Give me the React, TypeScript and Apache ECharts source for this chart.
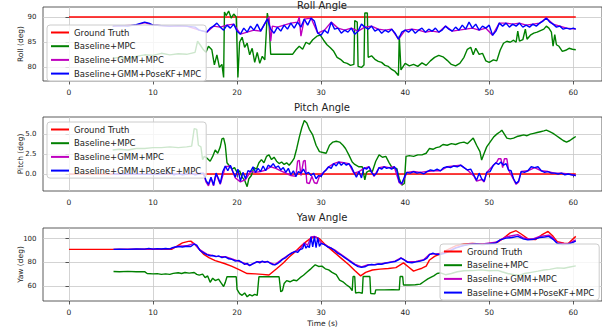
import React, { useEffect, useRef } from "react";
import * as echarts from "echarts";

type Pt = [number, number];

const xTicks = [0, 10, 20, 30, 40, 50, 60];
const rollTicks = [80, 85, 90];
const pitchTicks = [0, 2.5, 5];
const yawTicks = [60, 80, 100];
const seriesNames = ["Ground Truth", "Baseline+MPC", "Baseline+GMM+MPC", "Baseline+GMM+PoseKF+MPC"];
const titles = ["Roll Angle", "Pitch Angle", "Yaw Angle"];
const yNames = ["Roll (deg)", "Pitch (deg)", "Yaw (deg)"];

// ---------- Roll ----------
const rollGroundTruth: Pt[] = [[0, 90], [60.3, 90]];
const rollMpc: Pt[] = [
  [5.2, 81.8], [6, 82.0], [7, 81.7], [8, 82.2], [9, 82.5], [10, 82.4], [11, 82.8], [12, 82.5], [13, 82.7], [14, 82.6], [15, 83.0], [15.3, 85.2], [15.6, 84.5], [16, 83.5],
  [16.3, 83.0], [16.6, 84.2], [17.0, 83.5], [17.3, 80.5], [17.6, 82.5], [17.9, 80.0], [18.2, 80.6], [18.4, 78.0], [18.5, 91.0], [18.7, 90.3], [19.0, 91.2], [19.3, 89.8], [19.6, 90.6], [19.9, 90.0], [20.1, 78.0], [20.3, 85.0], [20.6, 86.0], [20.9, 84.0], [21.2, 84.8], [21.5, 82.5], [21.8, 83.8], [22.1, 81.0], [22.4, 83.0], [22.7, 80.8], [23.0, 82.2], [23.3, 81.5], [23.6, 90.8], [23.8, 89.0], [24.0, 82.6], [25.0, 82.6], [26.0, 82.6], [26.6, 82.6], [27.0, 83.5], [27.4, 84.2], [27.8, 83.6], [28.2, 85.0], [28.6, 84.6], [29.0, 85.5], [29.5, 86.2], [29.9, 86.4], [30.3, 85.4], [30.7, 84.5], [31.1, 83.9], [31.5, 83.2], [31.9, 82.0], [32.3, 81.6], [32.7, 81.0], [33.1, 80.8], [33.5, 80.4], [33.9, 80.6], [34.0, 89.3], [34.3, 89.0], [34.4, 80.2], [34.8, 80.0], [35.1, 80.5], [35.2, 90.8], [35.5, 90.8], [35.6, 82.0], [36.0, 82.3], [36.4, 81.6], [36.8, 81.2], [37.2, 81.0], [37.6, 80.4], [38.0, 80.2], [38.4, 79.6], [38.8, 79.2], [39.2, 78.4], [39.3, 86.3], [39.5, 79.5], [40.0, 80.8], [40.5, 80.3], [41.0, 80.6], [41.5, 80.2], [42.0, 80.9], [42.5, 80.4], [43.0, 81.3], [43.5, 82.0], [44.0, 82.4], [44.5, 82.1], [45.0, 81.4], [45.5, 80.6], [46.0, 80.3], [46.5, 80.8], [47.0, 82.0], [47.4, 83.6], [47.8, 84.0], [48.1, 82.5], [48.4, 83.8], [48.8, 82.6], [49.2, 82.8], [49.6, 81.3], [50.0, 81.0], [50.5, 81.5], [50.9, 81.3], [51.3, 83.4], [51.7, 84.8], [52.1, 85.2], [52.5, 85.0], [52.9, 85.4], [53.2, 85.0], [53.4, 87.2], [53.6, 85.2], [54.0, 85.5], [54.3, 87.6], [54.5, 85.6], [54.9, 86.4], [55.3, 86.8], [55.7, 87.0], [56.1, 87.3], [56.5, 87.6], [56.8, 88.2], [57.1, 87.8], [57.4, 87.0], [57.6, 84.2], [57.8, 86.5], [58.0, 84.5], [58.3, 84.2], [58.7, 83.2], [59.1, 83.4], [59.5, 83.8], [59.9, 83.6], [60.3, 83.5],
];
const rollGmm: Pt[] = [
  [5.2, 88.2], [8, 88.4], [9, 88.9], [10, 88.4], [12, 88.2], [14, 88.2], [15.5, 87.4], [16.4, 87.0], [17.2, 88.2], [18.0, 88.0], [18.8, 88.4], [19.6, 88.6], [20.4, 86.6], [21.2, 87.0], [22.0, 87.4], [22.8, 87.2], [23.6, 89.6], [23.8, 90.0], [24.0, 85.2], [24.2, 88.2], [24.8, 88.0], [25.6, 88.4], [26.4, 88.8], [27.2, 89.0], [27.4, 90.0], [27.6, 86.2], [28.0, 89.6], [28.8, 89.8], [29.6, 86.8], [30.4, 87.4], [31.2, 89.0], [32.0, 87.8], [32.8, 87.4], [33.6, 87.8], [34.4, 87.2], [35.2, 88.0], [36.0, 88.2], [36.8, 87.6], [37.6, 87.4], [38.4, 87.6], [39.2, 85.6], [40.0, 87.4], [40.8, 87.6], [41.6, 87.4], [42.4, 87.0], [43.2, 87.2], [44.0, 87.0], [44.8, 88.2], [45.6, 87.2], [46.4, 87.4], [47.2, 87.6], [48.0, 87.8], [48.8, 87.4], [49.6, 87.8], [50.4, 86.4], [51.2, 88.8], [52.0, 88.8], [52.8, 88.6], [53.6, 88.8], [54.4, 88.4], [55.2, 88.6], [56.0, 88.8], [56.8, 89.8], [57.6, 88.6], [58.4, 88.2], [59.2, 87.8], [60.3, 87.6],
];
const rollPoseKf: Pt[] = [
  [5.2, 88.2], [6, 88.3], [7, 88.2], [8, 88.5], [9, 89.0], [9.5, 88.8], [10, 88.4], [11, 88.3], [12, 88.2], [13, 88.3], [14, 88.2], [15, 88.0], [15.5, 87.4], [16, 87.2],
  [16.4, 87.0], [16.8, 87.8], [17.2, 88.2], [17.6, 88.8], [18.0, 88.0], [18.4, 87.4], [18.8, 88.4], [19.2, 87.8], [19.6, 88.6], [20.0, 87.2], [20.4, 86.6], [20.8, 87.8], [21.2, 87.0], [21.6, 88.2], [22.0, 87.4], [22.4, 88.6], [22.8, 87.2], [23.2, 88.4], [23.6, 89.6], [24.0, 87.6], [24.4, 86.8], [24.8, 88.0], [25.2, 87.2], [25.6, 88.4], [26.0, 87.6], [26.4, 88.8], [26.8, 87.8], [27.2, 89.0], [27.6, 88.0], [28.0, 89.6], [28.4, 88.4], [28.8, 89.8], [29.2, 89.2], [29.6, 86.8], [30.0, 86.4], [30.4, 87.4], [30.8, 86.8], [31.2, 89.0], [31.6, 87.6], [32.0, 87.8], [32.4, 86.8], [32.8, 87.4], [33.2, 87.0], [33.6, 87.8], [34.0, 86.6], [34.4, 87.2], [34.8, 88.6], [35.2, 88.0], [35.6, 87.6], [36.0, 88.2], [36.4, 87.2], [36.8, 87.6], [37.2, 86.8], [37.6, 87.4], [38.0, 87.0], [38.4, 87.6], [38.8, 86.8], [39.2, 85.6], [39.6, 87.0], [40.0, 87.4], [40.4, 87.0], [40.8, 87.6], [41.2, 86.8], [41.6, 87.4], [42.0, 87.8], [42.4, 87.0], [42.8, 87.6], [43.2, 87.2], [43.6, 87.8], [44.0, 87.0], [44.4, 87.4], [44.8, 88.2], [45.2, 87.6], [45.6, 87.2], [46.0, 88.0], [46.4, 87.4], [46.8, 88.4], [47.2, 87.6], [47.6, 89.0], [48.0, 87.8], [48.4, 88.6], [48.8, 87.4], [49.2, 88.2], [49.6, 87.8], [50.0, 88.4], [50.4, 86.4], [50.8, 87.2], [51.2, 88.8], [51.6, 88.2], [52.0, 88.8], [52.4, 88.0], [52.8, 88.6], [53.2, 88.2], [53.6, 88.8], [54.0, 88.0], [54.4, 88.4], [54.8, 88.0], [55.2, 88.6], [55.6, 88.2], [56.0, 88.8], [56.4, 89.2], [56.8, 89.8], [57.2, 89.0], [57.6, 88.6], [58.0, 88.0], [58.4, 88.2], [58.8, 87.6], [59.2, 87.8], [59.6, 87.6], [60.0, 87.8], [60.3, 87.6],
];

// ---------- Pitch ----------
const pitchGroundTruth: Pt[] = [[0, 0], [60.3, 0]];
const pitchMpc: Pt[] = [
  [5.2, 3.0], [6, 3.1], [7, 3.0], [8, 3.2], [9, 3.2], [10, 3.3], [11, 3.3], [12, 3.4], [13, 3.3], [14, 3.4], [14.6, 3.5], [14.9, 5.7], [15.2, 5.6], [15.4, 3.6], [15.7, 3.4], [15.9, 1.8], [16.1, 2.2],
  [16.4, 2.0], [16.8, 1.6], [17.1, 2.2], [17.4, 3.0], [17.7, 2.6], [18.0, 3.4], [18.2, 4.4], [18.4, 4.5], [18.6, 3.6], [18.8, 1.4], [19.1, 1.0], [19.4, 0.6], [19.7, 0.8], [20.0, 0.2], [20.3, 0.4], [20.6, -0.4], [20.9, -0.8], [21.2, -1.6], [21.4, -0.6], [21.7, -0.2], [22.0, 0.8], [22.3, 0.6], [22.6, 1.4], [22.9, 1.8], [23.2, 1.4], [23.5, 2.2], [23.8, 2.4], [24.1, 1.8], [24.4, 2.1], [24.7, 1.6], [25.0, 1.3], [25.3, 1.5], [25.6, 1.2], [25.9, 1.4], [26.2, 1.1], [26.5, 1.5], [26.8, 2.0], [27.1, 3.2], [27.4, 4.6], [27.7, 5.8], [28.0, 6.7], [28.3, 6.4], [28.6, 5.6], [29.0, 4.9], [29.4, 3.6], [29.8, 2.8], [30.2, 2.7], [30.6, 2.6], [31.0, 3.6], [31.4, 4.0], [31.8, 4.1], [32.2, 4.0], [32.6, 3.6], [32.9, 3.2], [33.3, 2.4], [33.7, 1.5], [34.0, 1.2], [34.5, 0.9], [34.9, 0.9], [35.2, -0.75], [35.4, 0.2], [35.7, 0.4], [36.1, 0.3], [36.5, 1.6], [36.9, 2.4], [37.3, 2.1], [37.7, 2.2], [38.1, 1.4], [38.5, 0.7], [39.0, 0.7], [39.3, -0.6], [39.6, -1.4], [39.9, -1.2],
  [40.1, 2.2], [40.5, 2.3], [41.0, 2.2], [41.5, 2.4], [42.0, 2.4], [42.5, 2.6], [42.9, 3.2], [43.3, 3.1], [43.7, 3.3], [44.1, 3.4], [44.5, 3.7], [45.0, 3.6], [45.5, 3.8], [46.0, 3.7], [46.5, 3.9], [47.0, 4.0], [47.4, 3.8], [47.8, 4.2], [48.1, 4.5], [48.5, 3.6], [48.9, 2.8], [49.1, 1.75], [49.4, 2.6], [49.7, 3.4], [50.1, 4.0], [50.5, 4.6], [50.9, 5.0], [51.3, 5.3], [51.5, 5.5], [51.8, 5.0], [52.1, 4.5], [52.5, 4.4], [52.9, 4.5], [53.3, 4.7], [53.7, 4.8], [54.1, 4.9], [54.5, 4.8], [54.9, 5.0], [55.3, 5.1], [55.7, 5.2], [56.1, 5.3], [56.5, 5.4], [56.8, 5.5], [57.2, 5.3], [57.6, 5.1], [58.0, 4.8], [58.4, 4.5], [58.8, 4.2], [59.2, 4.0], [59.6, 4.2], [60.0, 4.5], [60.3, 4.7],
];
const pitchGmm: Pt[] = [
  [5.2, 0.0], [9, 0.0], [12, 0.05], [14, 0.0], [16.0, 0.1], [16.3, -1.0], [16.6, -1.5], [16.9, -0.5], [17.2, -1.5], [17.5, 0.0], [18.0, -1.3], [18.6, 0.9], [19.2, 1.0], [19.8, -0.5], [20.4, -1.0], [21.0, -0.7], [21.6, 0.3], [22.2, 0.2], [22.8, 0.3], [23.4, 0.5], [24.0, 0.9], [24.6, 0.7], [25.2, 0.4], [25.8, 0.1], [26.4, -0.2], [27.0, -0.3], [27.2, 1.6], [27.4, 1.7], [27.6, -0.2], [27.9, 1.6], [28.1, 1.7], [28.3, -1.1], [28.6, -1.2], [28.9, -0.3], [29.2, -1.1], [29.5, -1.2], [29.8, -0.3], [30.3, 0.2], [30.9, 0.9], [31.5, 1.3], [32.1, 1.5], [32.7, 1.4], [33.3, 1.3], [33.9, 0.1], [34.5, 0.3], [35.1, 0.7], [35.7, 0.9], [36.3, -0.3], [36.9, 0.8], [37.5, 0.9], [38.1, 0.8], [38.7, 0.9], [39.3, -1.1], [39.6, -1.3], [40.2, 0.2], [41.0, 0.3], [41.8, 0.2], [42.6, 0.3], [43.4, 0.4], [44.2, 0.4], [45.0, 0.9], [45.8, 1.0], [46.6, 1.1], [47.4, 0.5], [48.2, -0.3], [48.5, -0.9], [49.1, -0.7], [49.4, -1.0], [49.7, 0.2], [50.5, 1.1], [50.9, 1.5], [51.1, 1.9], [51.4, 1.9], [51.6, 0.8], [51.8, 1.9], [52.1, 1.9], [52.3, 0.5], [52.9, -0.7], [53.2, -1.3], [53.5, -1.0], [53.8, 0.3], [54.6, 0.4], [55.4, 0.8], [56.2, 0.4], [57.0, 0.3], [57.8, 0.1], [58.6, 0.1], [59.4, 0.0], [60.3, -0.2],
];
const pitchPoseKf: Pt[] = [
  [5.2, 0.0], [7, 0.05], [9, -0.05], [11, 0.0], [12, 0.1], [12.5, -0.1], [13, 0.05], [13.5, -0.1], [14, 0.0], [14.5, 0.1], [15, -0.1], [15.5, 0.0], [16.0, 0.1], [16.3, -0.8], [16.6, -1.3], [16.9, -0.4], [17.2, -1.4], [17.5, 0.1], [17.8, -0.6], [18.0, -1.2], [18.3, 0.3], [18.6, 1.0], [18.9, 0.4], [19.2, 1.1], [19.5, 0.3], [19.8, -0.4], [20.1, 0.6], [20.4, -0.9], [20.7, 0.2], [21.0, -0.6], [21.3, 0.4], [21.6, 0.3], [21.9, 0.9], [22.2, 0.2], [22.5, 0.7], [22.8, 0.3], [23.1, 1.0], [23.4, 0.4], [23.7, 1.1], [24.0, 0.9], [24.3, 1.3], [24.6, 0.8], [24.9, 1.0], [25.2, 0.5], [25.5, 0.8], [25.8, 0.2], [26.1, 0.7], [26.4, -0.1], [26.7, 0.4], [27.0, -0.3], [27.3, 0.3], [27.6, 0.1], [27.9, 0.6], [28.2, 0.0], [28.5, 0.2], [28.8, -0.2], [29.1, 0.1], [29.4, -0.6], [29.7, -0.2], [30.0, -0.3], [30.3, 0.2], [30.6, 0.5], [30.9, 0.9], [31.2, 0.7], [31.5, 1.3], [31.8, 1.0], [32.1, 1.5], [32.4, 1.1], [32.7, 1.4], [33.0, 1.1], [33.3, 1.3], [33.6, 0.9], [33.9, 0.2], [34.2, -0.4], [34.5, 0.3], [34.8, -0.5], [35.1, 0.8], [35.4, 0.6], [35.7, 0.9], [36.0, 0.2], [36.3, -0.2], [36.6, 0.1], [36.9, 0.8], [37.2, 0.6], [37.5, 0.9], [37.8, 0.7], [38.1, 0.8], [38.4, 0.6], [38.7, 0.9], [39.0, 0.5], [39.3, -1.0], [39.6, -1.2], [39.9, -0.4], [40.2, 0.2], [40.6, 0.1], [41.0, 0.3], [41.4, 0.1], [41.8, 0.2], [42.2, 0.0], [42.6, 0.3], [43.0, 0.5], [43.4, 0.4], [43.8, 0.6], [44.2, 0.4], [44.6, 0.8], [45.0, 0.9], [45.4, 0.8], [45.8, 1.0], [46.2, 0.9], [46.6, 1.1], [47.0, 0.8], [47.4, 0.5], [47.8, 0.6], [48.2, -0.2], [48.5, -0.8], [48.8, 0.1], [49.1, -0.6], [49.4, -0.9], [49.7, 0.2], [50.1, 0.3], [50.5, 1.1], [50.8, 1.4], [51.1, 1.2], [51.4, 1.5], [51.7, 1.1], [52.0, 1.3], [52.3, 0.5], [52.6, 0.4], [52.9, -0.6], [53.2, -1.2], [53.5, -0.9], [53.8, 0.3], [54.2, 0.2], [54.6, 0.4], [55.0, 0.9], [55.4, 0.8], [55.8, 0.9], [56.2, 0.4], [56.6, 0.2], [57.0, 0.3], [57.4, 0.1], [57.8, 0.1], [58.2, 0.0], [58.6, 0.1], [59.0, -0.1], [59.4, 0.0], [59.8, -0.1], [60.3, -0.2],
];

// ---------- Yaw ----------
const yawGroundTruth: Pt[] = [
  [0, 91], [12.2, 91], [12.8, 93.5], [13.5, 96.5], [14.2, 97.8], [14.5, 98], [15.0, 95], [15.5, 91], [16.0, 87], [16.7, 83.8], [17.4, 81.5], [18.5, 79], [19.4, 76.5], [20.3, 73.5], [21.2, 70.5], [22.2, 70.2], [23.0, 69.8], [23.8, 69.2], [24.7, 74.5], [25.5, 79.5], [26.2, 84.5], [27.0, 89.5], [27.7, 94.5], [28.3, 98], [28.8, 100.5], [29.3, 101.5], [29.8, 100], [30.5, 95], [31.4, 89.5], [32.3, 84], [33.3, 78], [34.0, 73], [34.7, 68.5], [35.3, 71.5], [36.1, 73.5], [37.0, 74.2], [38.0, 74.8], [38.9, 75.5], [39.8, 79.5], [40.4, 76], [41.0, 72.5], [41.4, 73.6], [42.0, 75], [42.5, 76.8], [42.9, 82], [43.5, 85], [44.1, 87], [45, 90.5], [46, 94], [47, 95.5], [48, 96], [49, 95.5], [50, 96], [51, 97], [51.8, 101], [52.5, 105], [53.2, 106.8], [53.8, 104], [54.7, 99.5], [55.5, 99.2], [56.2, 103], [57.0, 106.2], [57.6, 102], [58.1, 97.5], [58.9, 96.2], [59.4, 96.0], [60.3, 102],
];
const yawMpc: Pt[] = [
  [5.3, 72.2], [6, 72], [7, 72.3], [8, 72], [9, 72.1], [9.3, 70.5], [10, 70.2], [10.5, 70.4], [11, 69.8], [11.5, 70.2], [12, 69.8], [12.4, 70.6], [13, 71.2], [13.4, 70.5], [13.8, 71.4], [14.3, 70.8], [14.9, 71.4], [15.2, 69.8], [15.5, 69.2], [15.9, 70], [16.2, 67], [16.5, 68.5], [16.8, 63], [17.1, 66.5], [17.4, 64.5], [17.8, 65.8], [18.1, 62.5], [18.4, 59.5], [18.6, 63], [18.8, 67.8], [19.4, 67.8], [19.9, 67.8], [20.0, 57], [20.3, 53.5], [20.6, 52], [20.9, 54], [21.2, 50.8], [21.5, 52.6], [21.8, 51.5], [22.1, 52.8], [22.4, 52], [22.6, 67.8], [23.5, 67.8], [24.3, 67.8], [25.0, 67.8], [25.2, 55], [25.4, 56], [25.6, 62], [25.9, 64.5], [26.3, 63.5], [26.7, 65], [27.1, 64.4], [27.5, 67], [27.9, 69], [28.3, 71.5], [28.7, 74], [29.0, 76], [29.3, 77.9], [29.7, 76.5], [30.1, 76.8], [30.5, 74.5], [30.9, 73.6], [31.3, 71.5], [31.8, 69.5], [32.2, 65], [32.6, 63.5], [33.0, 61], [33.4, 59], [33.7, 56], [33.8, 68], [34.0, 68], [34.1, 54], [34.5, 54.5], [34.9, 53.8], [35.0, 68], [35.8, 68], [35.9, 53.5], [36.4, 53.2], [36.5, 56.6], [37.5, 56.6], [38.5, 56.8], [39.3, 56.6], [39.4, 68], [39.7, 68], [39.8, 60.8], [40.5, 60.8], [41.2, 61], [41.8, 61.5], [42.2, 63.5], [42.7, 66], [43.1, 67.5], [43.4, 68.5], [43.8, 70.5], [44.2, 71], [44.8, 69.5], [45.5, 70.5], [46.2, 72], [47, 72.8], [48, 73], [49, 73.6], [50, 72.8], [51, 73.2], [51.5, 72], [52.2, 70.5], [53, 69.5], [53.6, 69], [54.2, 70.5], [55, 71.5], [55.8, 72.5], [56.5, 73.5], [57.2, 74], [58.1, 75.3], [58.9, 75], [59.6, 76], [60.3, 77],
];
const yawGmm: Pt[] = [
  [5.3, 91], [8, 91.2], [10, 91.3], [12, 91.4], [13, 93.6], [14, 94], [14.9, 96], [15.6, 90.5], [16.4, 87], [17.5, 85], [18.6, 84.8], [19.4, 82.8], [20.6, 80], [21.5, 77.5], [22.4, 80.5], [23.6, 80.6], [24.5, 78], [25.4, 82.8], [26.5, 88], [27.5, 91], [28.0, 96.5], [28.4, 94.5], [28.8, 101.5], [29.2, 102], [29.6, 100.5], [30.0, 96.5], [30.8, 93.5], [31.6, 90.5], [32.4, 86.5], [33.2, 82.5], [34.0, 78.5], [34.8, 76.2], [35.6, 78], [36.4, 78.2], [37.2, 78.8], [38.0, 80], [38.8, 81], [39.5, 83.8], [40.3, 80.4], [41.3, 80.8], [42.2, 82.2], [42.9, 86.8], [43.7, 87.2], [44.6, 88], [46, 92.5], [47.6, 95.5], [49.2, 95.5], [50.8, 97], [52.0, 101.5], [52.7, 102.5], [53.4, 103.5], [54.0, 101], [54.6, 99.8], [55.3, 100], [56.0, 102], [57.1, 103], [57.6, 100.5], [58.1, 96.5], [59.3, 95.5], [60.3, 99],
];
const yawPoseKf: Pt[] = [
  [5.3, 91], [6, 91.2], [7, 91], [8, 91.3], [9, 91.2], [9.5, 91.8], [10, 91.2], [10.5, 91.6], [11, 91.3], [11.5, 91.7], [12, 91.4], [12.4, 92.6], [13, 93.4], [13.5, 93.0], [14, 93.6], [14.5, 93.4], [14.9, 95.5], [15.2, 94.5], [15.6, 90], [16.0, 88], [16.4, 86.5], [16.8, 85.5], [17.1, 85.8], [17.5, 84.8], [17.8, 85.5], [18.2, 84], [18.6, 84.6], [19.0, 83], [19.4, 82.5], [19.8, 81], [20.2, 81.6], [20.6, 79.8], [20.9, 78.2], [21.2, 79.2], [21.5, 77.2], [21.8, 78.4], [22.1, 79.5], [22.4, 80.6], [22.7, 79.6], [23.0, 81], [23.3, 80], [23.6, 80.8], [23.9, 79.4], [24.2, 78.2], [24.5, 77.8], [24.8, 78.8], [25.1, 80.5], [25.4, 82.5], [25.8, 84], [26.1, 86], [26.5, 87.8], [26.9, 89.2], [27.2, 88.4], [27.5, 90.8], [27.8, 91.6], [28.0, 96], [28.2, 92], [28.4, 94], [28.6, 92.5], [28.8, 101.5], [29.0, 93], [29.2, 102], [29.4, 92.5], [29.6, 101], [29.8, 93.5], [30.0, 96], [30.4, 95], [30.8, 93], [31.2, 92], [31.6, 90], [32.0, 87.5], [32.4, 86], [32.8, 84], [33.2, 82], [33.6, 80], [34.0, 78], [34.4, 76.4], [34.8, 75.8], [35.2, 76.2], [35.6, 77.6], [36.0, 78.2], [36.4, 77.8], [36.8, 78.6], [37.2, 78.4], [37.6, 79.2], [38.0, 79.6], [38.4, 80.2], [38.8, 80.7], [39.2, 82], [39.5, 83.5], [39.9, 82], [40.3, 80], [40.8, 79.6], [41.3, 80.4], [41.8, 81], [42.2, 81.8], [42.6, 83.5], [42.9, 86.5], [43.3, 87.8], [43.7, 86.8], [44.1, 86.5], [44.6, 87.5], [45.2, 89], [46, 92], [46.8, 94], [47.6, 95], [48.4, 95.5], [49.2, 95], [50, 95.5], [50.8, 96.5], [51.3, 99], [52.0, 100.5], [52.7, 101], [53.4, 102], [54.0, 100], [54.6, 99], [55.3, 99.5], [56.0, 101], [56.6, 101.5], [57.1, 102], [57.6, 99.5], [58.1, 96], [58.7, 95], [59.3, 95.2], [59.8, 96.5], [60.3, 98],
];

const plotData: Pt[][][] = [
  [rollGroundTruth, rollMpc, rollGmm, rollPoseKf],
  [pitchGroundTruth, pitchMpc, pitchGmm, pitchPoseKf],
  [yawGroundTruth, yawMpc, yawGmm, yawPoseKf],
];
const yTicks = [rollTicks, pitchTicks, yawTicks];
const yRanges: [number, number][] = [[77.3, 92.0], [-2.14, 7.15], [47.2, 109.1]];
const gridTops = [7, 117, 228];
const gridHeights = [74, 74, 73];
const titleY = [0, 102, 212];
const legendPos = [
  { left: 47, top: 25 },
  { left: 47, top: 122 },
  { left: 440, top: 244 },
];
const colors = ["#ff0000", "#008000", "#bf00bf", "#0000ff"];
const FONT = "DejaVu Sans";

export default function App() {
  const ref = useRef<HTMLDivElement>(null);
  useEffect(() => {
    if (!ref.current) return;
    const chart = echarts.init(ref.current, undefined, { renderer: "svg" });
    const grids = gridTops.map((top, i) => ({
      left: 43,
      top,
      width: 560,
      height: gridHeights[i],
      show: true,
      borderColor: "#333",
      borderWidth: 0.8,
      backgroundColor: "#fff",
    }));
    const xAxes = [0, 1, 2].map((i) => ({
      type: "value",
      gridIndex: i,
      min: -3.09,
      max: 63.42,
      axisLine: { show: false },
      axisTick: { show: true, length: 3.5, lineStyle: { color: "#333", width: 0.8 }, customValues: xTicks },
      axisLabel: { customValues: xTicks, fontSize: 7.5, color: "#222", margin: 7.5, fontFamily: FONT },
      splitLine: { show: true, lineStyle: { color: "#c8c8c8", width: 0.8 } },
      name: i === 2 ? "Time (s)" : "",
      nameLocation: "middle",
      nameGap: 18,
      nameMoveOverlap: false,
      nameTextStyle: { fontSize: 7.5, color: "#222", fontFamily: FONT },
    }));
    const yAxes = [0, 1, 2].map((i) => ({
      type: "value",
      gridIndex: i,
      min: yRanges[i][0],
      max: yRanges[i][1],
      axisLine: { show: false },
      axisTick: { show: true, length: 3.5, lineStyle: { color: "#333", width: 0.8 }, customValues: yTicks[i] },
      axisLabel: {
        customValues: yTicks[i],
        fontSize: 7,
        color: "#222",
        margin: 6.5,
        fontFamily: FONT,
        formatter: (v: number) => (i === 1 ? v.toFixed(1) : String(v)),
      },
      splitLine: { show: true, lineStyle: { color: "#c8c8c8", width: 0.8 } },
      name: yNames[i],
      nameLocation: "middle",
      nameGap: 18.5,
      nameRotate: 90,
      nameMoveOverlap: false,
      nameTextStyle: { fontSize: 7.5, color: "#222", fontFamily: FONT },
    }));
    const legends = legendPos.map((p) => ({
      orient: "vertical",
      left: p.left,
      top: p.top,
      data: seriesNames,
      icon: "rect",
      itemWidth: 18,
      itemHeight: 2,
      itemGap: 4.7,
      selectedMode: false,
      textStyle: { fontSize: 8.5, color: "#222", fontFamily: FONT },
      backgroundColor: "rgba(255,255,255,0.8)",
      borderColor: "#cccccc",
      borderWidth: 1,
      borderRadius: 3,
      padding: [3, 5, 3, 4],
      z: 10,
    }));
    const series: any[] = [];
    plotData.forEach((group, gi) => {
      group.forEach((data, si) => {
        series.push({
          type: "line",
          name: seriesNames[si],
          xAxisIndex: gi,
          yAxisIndex: gi,
          data,
          showSymbol: false,
          symbol: "none",
          color: colors[si],
          lineStyle: { color: colors[si], width: 1.4 },
          z: 2 + si * 0.01,
        });
      });
    });
    const graphic = titles.map((t, i) => ({
      type: "text",
      x: 322,
      y: titleY[i],
      z: 20,
      style: { text: t, fontSize: 10, fontFamily: FONT, fill: "#222", textAlign: "center", textVerticalAlign: "top" },
    }));
    chart.setOption({
      animation: false,
      backgroundColor: "#fff",
      textStyle: { fontFamily: FONT },
      grid: grids,
      xAxis: xAxes,
      yAxis: yAxes,
      legend: legends,
      graphic,
      series,
    });
    return () => chart.dispose();
  }, []);
  return (
    <div
      ref={ref}
      style={{ position: "fixed", left: 0, top: 0, width: 602, height: 328, background: "#fff" }}
    />
  );
}
